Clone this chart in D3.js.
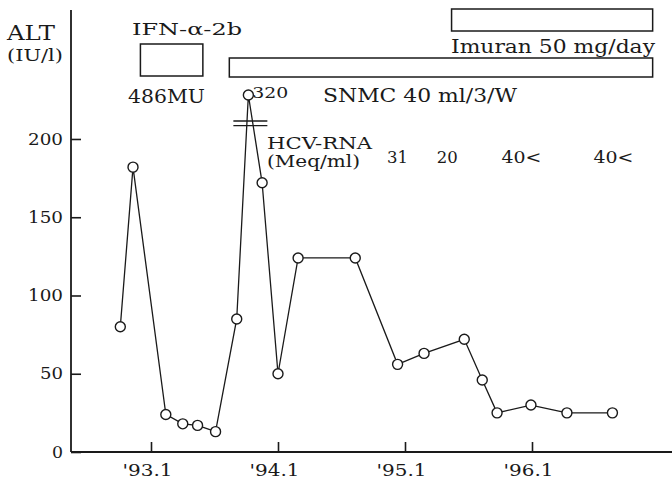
<!DOCTYPE html>
<html>
<head>
<meta charset="utf-8">
<script src="https://cdn.jsdelivr.net/npm/d3@7"></script>
<style>
  body { margin: 0; background: #fff; }
  svg text { font-family: "DejaVu Serif", "Liberation Serif", serif; fill: #1a1a1a; }
</style>
</head>
<body>
<svg id="chart" width="672" height="481"></svg>
<script>
// months counted from Jan 1993 ('93.1 = 0)
const months = [-2.9, -1.7, 1.4, 3.0, 4.4, 6.1, 8.1, 9.2, 10.5, 12.0, 13.9, 19.3, 23.3, 25.8, 29.6, 31.3, 32.7, 35.9, 39.3, 43.6];
const alt = [80, 182, 24, 18, 17, 13, 85, 320, 172, 50, 124, 124, 56, 63, 72, 46, 25, 30, 25, 25];

const yTicks = [0, 50, 100, 150, 200];
const xTicks = [0, 12, 24, 36];
const xTickLabels = ["'93.1", "'94.1", "'95.1", "'96.1"];

const treatNames = ["IFN-α-2b", "SNMC 40 ml/3/W", "Imuran 50 mg/day"];
const treatStart = [-1.0, 7.4, 28.4];
const treatEnd = [4.9, 47.4, 47.4];
const ifnDose = "486MU";

const hcvMonths = [23.3, 28.0, 35.0, 43.7];
const hcvLabels = ["31", "20", "40<", "40<"];

var svg = d3.select("#chart");
var ink = "#1a1a1a";
var font = "DejaVu Serif";

var x = d3.scaleLinear().domain([0, 36]).range([151, 532]);
// broken axis: above ~212 the scale is squeezed so the 320 peak fits
var y = d3.scaleLinear().domain([0, 212, 320]).range([452, 120.2, 95]);

function label(txt, px, py, size, width, anchor) {
  var t = svg.append("text")
    .attr("x", px)
    .attr("y", py)
    .attr("font-size", size)
    .attr("text-anchor", anchor || "start")
    .text(txt);
  if (width) t.attr("textLength", width).attr("lengthAdjust", "spacingAndGlyphs");
  return t;
}

// axes
var yAxis = svg.append("g")
  .attr("transform", "translate(71,0)")
  .call(d3.axisLeft(y).tickValues(yTicks).tickSize(-10).tickPadding(8));
yAxis.select(".domain").remove();
yAxis.selectAll("line").attr("stroke", ink).attr("stroke-width", 1.6);
yAxis.selectAll("text")
  .attr("font-size", 16)
  .attr("font-family", font)
  .attr("fill", ink)
  .attr("textLength", d => String(d).length * 12 - 1)
  .attr("lengthAdjust", "spacingAndGlyphs");

var xAxis = svg.append("g")
  .attr("transform", "translate(0,452)")
  .call(d3.axisBottom(x).tickValues(xTicks).tickSize(-10)
    .tickFormat((d, i) => xTickLabels[i]));
xAxis.select(".domain").remove();
xAxis.selectAll("line").attr("stroke", ink).attr("stroke-width", 1.6);
xAxis.selectAll("text")
  .attr("y", 24)
  .attr("dy", null)
  .attr("dx", -4)
  .attr("font-size", 16)
  .attr("font-family", font)
  .attr("fill", ink)
  .attr("textLength", 50)
  .attr("lengthAdjust", "spacingAndGlyphs");

svg.append("line")
  .attr("x1", 71).attr("x2", 71)
  .attr("y1", 10).attr("y2", 452)
  .attr("stroke", ink).attr("stroke-width", 1.8);
svg.append("line")
  .attr("x1", 71).attr("x2", 672)
  .attr("y1", 452).attr("y2", 452)
  .attr("stroke", ink).attr("stroke-width", 1.8);

// ALT line + points
var pts = months.map((m, i) => ({ m: m, v: alt[i] }));
svg.append("path")
  .datum(pts)
  .attr("fill", "none")
  .attr("stroke", ink)
  .attr("stroke-width", 1.3)
  .attr("d", d3.line().x(d => x(d.m)).y(d => y(d.v)));

// axis-break marks on the peak
var peak = pts[alt.indexOf(d3.max(alt))];
[208.5, 211.5].forEach(function(v) {
  svg.append("line")
    .attr("x1", x(peak.m) - 15).attr("x2", x(peak.m) + 19)
    .attr("y1", y(v)).attr("y2", y(v))
    .attr("stroke", ink).attr("stroke-width", 1.3);
});

svg.selectAll("circle.pt")
  .data(pts)
  .enter()
  .append("circle")
  .attr("class", "pt")
  .attr("cx", d => x(d.m))
  .attr("cy", d => y(d.v))
  .attr("r", 5)
  .attr("fill", "#fff")
  .attr("stroke", ink)
  .attr("stroke-width", 1.4);

label(String(peak.v), x(peak.m) + 4, y(peak.v) + 3, 14, 36);

// treatment boxes
var boxTop = [44, 58, 9];
var boxBottom = [76, 77, 31];
treatNames.forEach(function(n, i) {
  svg.append("rect")
    .attr("x", x(treatStart[i]))
    .attr("y", boxTop[i])
    .attr("width", x(treatEnd[i]) - x(treatStart[i]))
    .attr("height", boxBottom[i] - boxTop[i])
    .attr("fill", "none")
    .attr("stroke", ink)
    .attr("stroke-width", 1.5);
});

label("ALT", 7, 40, 20, 48);
label("(IU/l)", 7, 61, 17, 56);
label(treatNames[0], 132, 35, 17, 110);
label(ifnDose, 128, 103, 18, 77);
label(treatNames[1], 323, 102, 18, 194);
label(treatNames[2], 451, 53, 18, 204);

label("HCV-RNA", 267, 149, 16, 105);
label("(Meq/ml)", 267, 167, 16, 93);
hcvLabels.forEach(function(t, i) {
  label(t, x(hcvMonths[i]), 163, 17, t.length === 2 ? 21 : 40, "middle");
});
</script>
</body>
</html>
